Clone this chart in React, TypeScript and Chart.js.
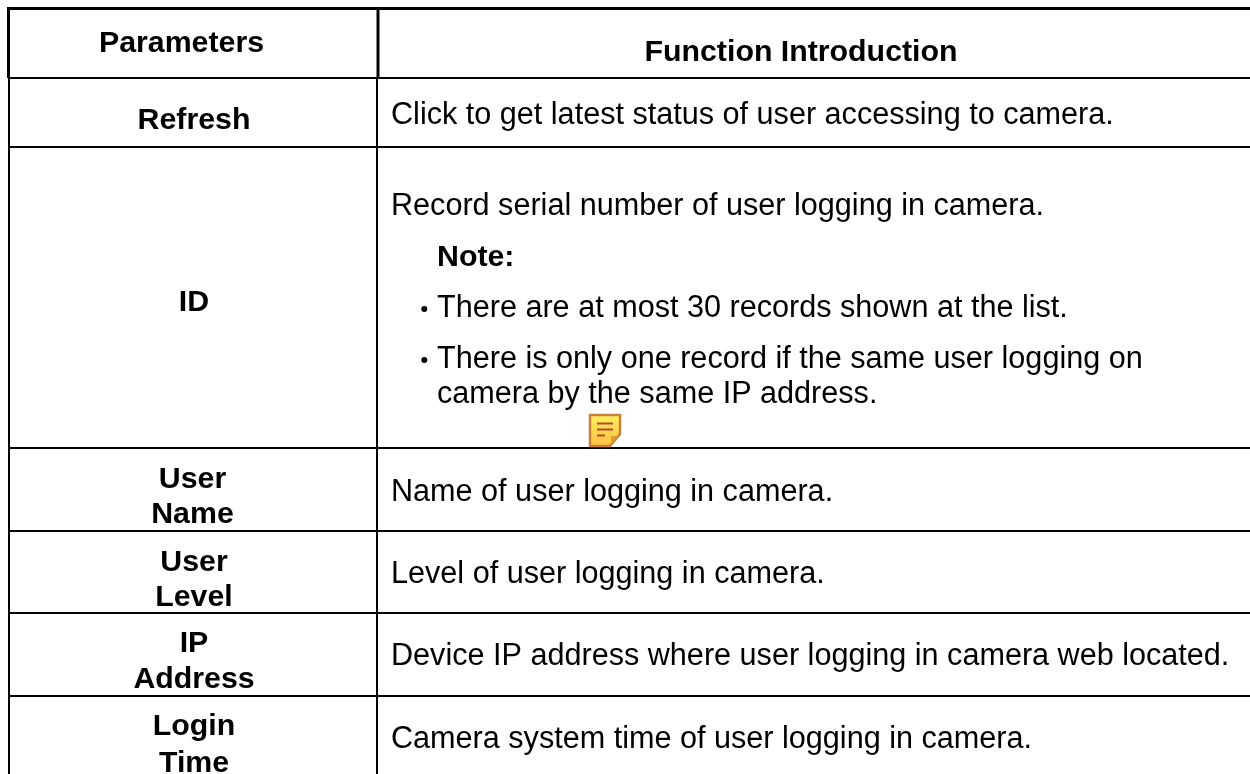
import React, { useEffect, useRef } from "react";
import { Chart, registerables } from "chart.js";

Chart.register(...registerables);

const FONT = '"Liberation Sans", Arial, sans-serif';

// Table content
const headerLabels = ["Parameters", "Function Introduction"];
const headerXs = [181.5, 801];
const headerYs = [52, 61];
const parameterLines = [["Refresh"], ["ID"], ["User", "Name"], ["User", "Level"], ["IP", "Address"], ["Login", "Time"]];
const parameterXs = [[194], [194], [192.5, 192.5], [194, 194], [194, 194], [194, 194]];
const parameterLineYs = [[129], [311], [488, 523], [571, 606], [652, 688], [735, 772]];
const functionTexts = [
  "Click to get latest status of user accessing to camera.",
  "Record serial number of user logging in camera.",
  "Name of user logging in camera.",
  "Level of user logging in camera.",
  "Device IP address where user logging in camera web located.",
  "Camera system time of user logging in camera.",
];
const functionYs = [124, 215, 501, 583, 665, 748];
const noteLabel = "Note:";
const noteY = 266;
const bulletLines = ["There are at most 30 records shown at the list.", "There is only one record if the same user logging on", "camera by the same IP address."];
const bulletYs = [317, 368, 403];
const bulletDotYs = [309, 360];
const ruleYs = [78, 147, 448, 531, 613, 696];

export default function App() {
  const ref = useRef<HTMLCanvasElement>(null);
  useEffect(() => {
    const tablePlugin = {
      id: "tablePlugin",
      afterDraw(chart: any) {
        const { ctx, scales } = chart;
        const X = (v: number) => scales.x.getPixelForValue(v);
        const Y = (v: number) => scales.y.getPixelForValue(v);
        const line = (x1: number, y1: number, x2: number, y2: number, w: number) => {
          ctx.lineWidth = w;
          ctx.strokeStyle = "#000";
          ctx.beginPath();
          ctx.moveTo(x1, y1);
          ctx.lineTo(x2, y2);
          ctx.stroke();
        };
        const text = (s: string, x: number, y: number, bold: boolean, align: CanvasTextAlign) => {
          ctx.font = `${bold ? "bold " : ""}${bold ? 30.3 : 30.6}px ${FONT}`;
          ctx.fillStyle = "#000";
          ctx.textAlign = align;
          ctx.textBaseline = "alphabetic";
          ctx.fillText(s, x, y);
        };
        ctx.save();
        line(X(7), Y(8.5), X(1250), Y(8.5), 3);
        line(X(8.5), Y(8), X(8.5), Y(78), 3);
        line(X(9), Y(78), X(9), Y(774), 2);
        line(X(378), Y(8), X(378), Y(78), 3);
        line(X(377), Y(78), X(377), Y(774), 2);
        ruleYs.forEach((y) => line(X(8), Y(y), X(1250), Y(y), 2));
        headerLabels.forEach((t, i) => text(t, X(headerXs[i]), Y(headerYs[i]), true, "center"));
        parameterLines.forEach((ls, i) => ls.forEach((l, j) => text(l, X(parameterXs[i][j]), Y(parameterLineYs[i][j]), true, "center")));
        functionTexts.forEach((t, i) => text(t, X(391), Y(functionYs[i]), false, "left"));
        text(noteLabel, X(437), Y(noteY), true, "left");
        bulletLines.forEach((t, i) => text(t, X(437), Y(bulletYs[i]), false, "left"));
        bulletDotYs.forEach((y) => {
          ctx.beginPath();
          ctx.fillStyle = "#000";
          ctx.arc(X(424.3), Y(y), 3, 0, Math.PI * 2);
          ctx.fill();
        });
        // note icon
        const ix = X(590), iy = Y(415);
        const g = ctx.createLinearGradient(0, iy, 0, iy + 31);
        g.addColorStop(0, "#fff060");
        g.addColorStop(1, "#ffc040");
        ctx.fillStyle = g;
        ctx.strokeStyle = "#c9803c";
        ctx.lineWidth = 2.5;
        ctx.beginPath();
        ctx.moveTo(ix, iy);
        ctx.lineTo(ix + 30, iy);
        ctx.lineTo(ix + 30, iy + 19);
        ctx.lineTo(ix + 20, iy + 31);
        ctx.lineTo(ix, iy + 31);
        ctx.closePath();
        ctx.fill();
        ctx.stroke();
        ctx.fillStyle = "#d8a030";
        ctx.beginPath();
        ctx.moveTo(ix + 28, iy + 21);
        ctx.lineTo(ix + 21, iy + 21);
        ctx.lineTo(ix + 21, iy + 30);
        ctx.closePath();
        ctx.fill();
        ctx.strokeStyle = "#b5482a";
        ctx.lineWidth = 2;
        [[7, 8.5, 23], [7, 14.5, 23], [7, 20.5, 15]].forEach(([a, b, c]) => {
          ctx.beginPath();
          ctx.moveTo(ix + a, iy + b);
          ctx.lineTo(ix + c, iy + b);
          ctx.stroke();
        });
        ctx.restore();
      },
    };
    const chart = new Chart(ref.current!, {
      type: "scatter",
      data: { datasets: [{ data: [], pointRadius: 0 }] },
      options: {
        animation: false,
        responsive: false,
        layout: { padding: 0 },
        plugins: { legend: { display: false }, tooltip: { enabled: false } },
        scales: {
          x: { type: "linear", min: 0, max: 1250, display: false },
          y: { type: "linear", min: 0, max: 774, reverse: true, display: false },
        },
      },
      plugins: [tablePlugin],
    });
    return () => chart.destroy();
  }, []);
  return (
    <div style={{ position: "fixed", left: 0, top: 0, width: 1250, height: 774, background: "#fff" }}>
      <canvas ref={ref} width={1250} height={774} style={{ display: "block" }} />
    </div>
  );
}
